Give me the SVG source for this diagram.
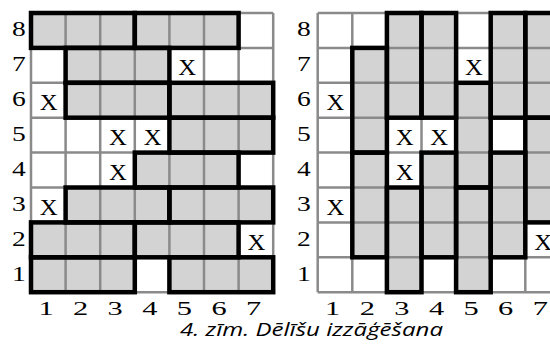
<svg xmlns="http://www.w3.org/2000/svg" width="550" height="345" viewBox="0 0 550 345">
<style>
.cell{fill:#d3d3d3}
.grid{fill:none;stroke:#8a8a8a;stroke-width:2.5}
.pc{fill:none;stroke:#000;stroke-width:4.5;stroke-linejoin:miter}
.x{font-family:"Liberation Serif",serif;font-size:22.5px;text-anchor:middle;fill:#000}
.rl{font-family:"Liberation Serif",serif;font-size:22px;text-anchor:middle;fill:#000}
.cl{font-family:"Liberation Serif",serif;font-size:19px;text-anchor:middle;fill:#000}
.cap{font-family:"Open Sans",sans-serif;font-style:italic;font-size:18.5px;fill:#000}
</style>
<rect width="550" height="345" fill="#fff"/>

<!-- LEFT GRID -->
<g id="left-grid" transform="translate(31,13)">
  <g id="left-fills">
    <rect class="cell" x="0" y="0" width="103.8" height="34.9"/>
    <rect class="cell" x="103.8" y="0" width="103.8" height="34.9"/>
    <rect class="cell" x="34.6" y="34.9" width="103.8" height="34.9"/>
    <rect class="cell" x="34.6" y="69.8" width="103.8" height="34.9"/>
    <rect class="cell" x="138.4" y="69.8" width="103.8" height="34.9"/>
    <rect class="cell" x="138.4" y="104.7" width="103.8" height="34.9"/>
    <rect class="cell" x="103.8" y="139.6" width="103.8" height="34.9"/>
    <rect class="cell" x="34.6" y="174.5" width="103.8" height="34.9"/>
    <rect class="cell" x="138.4" y="174.5" width="103.8" height="34.9"/>
    <rect class="cell" x="0" y="209.4" width="103.8" height="34.9"/>
    <rect class="cell" x="103.8" y="209.4" width="103.8" height="34.9"/>
    <rect class="cell" x="0" y="244.3" width="103.8" height="34.9"/>
    <rect class="cell" x="138.4" y="244.3" width="103.8" height="34.9"/>
  </g>
  <path class="grid" d="M0 0V279.2M34.6 0V279.2M69.2 0V279.2M103.8 0V279.2M138.4 0V279.2M173 0V279.2M207.6 0V279.2M242.2 0V279.2M0 0H242.2M0 34.9H242.2M0 69.8H242.2M0 104.7H242.2M0 139.6H242.2M0 174.5H242.2M0 209.4H242.2M0 244.3H242.2M0 279.2H242.2"/>
  <g id="left-pieces">
    <rect id="L8a" class="pc" x="0" y="0" width="103.8" height="34.9"/>
    <rect id="L8b" class="pc" x="103.8" y="0" width="103.8" height="34.9"/>
    <rect id="L7a" class="pc" x="34.6" y="34.9" width="103.8" height="34.9"/>
    <rect id="L6a" class="pc" x="34.6" y="69.8" width="103.8" height="34.9"/>
    <rect id="L6b" class="pc" x="138.4" y="69.8" width="103.8" height="34.9"/>
    <rect id="L5a" class="pc" x="138.4" y="104.7" width="103.8" height="34.9"/>
    <rect id="L4a" class="pc" x="103.8" y="139.6" width="103.8" height="34.9"/>
    <rect id="L3a" class="pc" x="34.6" y="174.5" width="103.8" height="34.9"/>
    <rect id="L3b" class="pc" x="138.4" y="174.5" width="103.8" height="34.9"/>
    <rect id="L2a" class="pc" x="0" y="209.4" width="103.8" height="34.9"/>
    <rect id="L2b" class="pc" x="103.8" y="209.4" width="103.8" height="34.9"/>
    <rect id="L1a" class="pc" x="0" y="244.3" width="103.8" height="34.9"/>
    <rect id="L1b" class="pc" x="138.4" y="244.3" width="103.8" height="34.9"/>
  </g>
  <g id="left-x" transform="scale(1.1,1)">
    <text class="x" x="142" y="62.15">X</text>
    <text class="x" x="16.18" y="97.05">X</text>
    <text class="x" x="79.09" y="131.95">X</text>
    <text class="x" x="110.55" y="131.95">X</text>
    <text class="x" x="79.09" y="166.85">X</text>
    <text class="x" x="16.18" y="201.75">X</text>
    <text class="x" x="204.91" y="236.65">X</text>
  </g>
</g>
<g id="left-row-labels" transform="scale(1.25,1)">
  <text class="rl" x="15.2" y="36.45">8</text>
  <text class="rl" x="15.2" y="71.35">7</text>
  <text class="rl" x="15.2" y="106.25">6</text>
  <text class="rl" x="15.2" y="141.15">5</text>
  <text class="rl" x="15.2" y="176.05">4</text>
  <text class="rl" x="15.2" y="210.95">3</text>
  <text class="rl" x="15.2" y="245.85">2</text>
  <text class="rl" x="15.2" y="280.75">1</text>
</g>
<g id="left-col-labels" transform="scale(1.6,1)">
  <text class="cl" x="28.75" y="315">1</text>
  <text class="cl" x="50.38" y="315">2</text>
  <text class="cl" x="72" y="315">3</text>
  <text class="cl" x="93.63" y="315">4</text>
  <text class="cl" x="115.25" y="315">5</text>
  <text class="cl" x="136.88" y="315">6</text>
  <text class="cl" x="158.5" y="315">7</text>
</g>

<!-- RIGHT GRID -->
<g id="right-grid" transform="translate(317.7,13)">
  <g id="right-fills">
    <rect class="cell" x="34.6" y="34.9" width="34.6" height="104.7"/>
    <rect class="cell" x="34.6" y="139.6" width="34.6" height="104.7"/>
    <rect class="cell" x="69.2" y="0" width="34.6" height="104.7"/>
    <rect class="cell" x="69.2" y="174.5" width="34.6" height="104.7"/>
    <rect class="cell" x="103.8" y="0" width="34.6" height="104.7"/>
    <rect class="cell" x="103.8" y="139.6" width="34.6" height="104.7"/>
    <rect class="cell" x="138.4" y="69.8" width="34.6" height="104.7"/>
    <rect class="cell" x="138.4" y="174.5" width="34.6" height="104.7"/>
    <rect class="cell" x="173" y="0" width="34.6" height="104.7"/>
    <rect class="cell" x="173" y="139.6" width="34.6" height="104.7"/>
    <rect class="cell" x="207.6" y="0" width="34.6" height="104.7"/>
    <rect class="cell" x="207.6" y="104.7" width="34.6" height="104.7"/>
  </g>
  <path class="grid" d="M0 0V279.2M34.6 0V279.2M69.2 0V279.2M103.8 0V279.2M138.4 0V279.2M173 0V279.2M207.6 0V279.2M242.2 0V279.2M0 0H242.2M0 34.9H242.2M0 69.8H242.2M0 104.7H242.2M0 139.6H242.2M0 174.5H242.2M0 209.4H242.2M0 244.3H242.2M0 279.2H242.2"/>
  <g id="right-pieces">
    <rect id="R2a" class="pc" x="34.6" y="34.9" width="34.6" height="104.7"/>
    <rect id="R2b" class="pc" x="34.6" y="139.6" width="34.6" height="104.7"/>
    <rect id="R3a" class="pc" x="69.2" y="0" width="34.6" height="104.7"/>
    <rect id="R3b" class="pc" x="69.2" y="174.5" width="34.6" height="104.7"/>
    <rect id="R4a" class="pc" x="103.8" y="0" width="34.6" height="104.7"/>
    <rect id="R4b" class="pc" x="103.8" y="139.6" width="34.6" height="104.7"/>
    <rect id="R5a" class="pc" x="138.4" y="69.8" width="34.6" height="104.7"/>
    <rect id="R5b" class="pc" x="138.4" y="174.5" width="34.6" height="104.7"/>
    <rect id="R6a" class="pc" x="173" y="0" width="34.6" height="104.7"/>
    <rect id="R6b" class="pc" x="173" y="139.6" width="34.6" height="104.7"/>
    <rect id="R7a" class="pc" x="207.6" y="0" width="34.6" height="104.7"/>
    <rect id="R7b" class="pc" x="207.6" y="104.7" width="34.6" height="104.7"/>
  </g>
  <g id="right-x" transform="scale(1.1,1)">
    <text class="x" x="142" y="62.15">X</text>
    <text class="x" x="16.18" y="97.05">X</text>
    <text class="x" x="79.09" y="131.95">X</text>
    <text class="x" x="110.55" y="131.95">X</text>
    <text class="x" x="79.09" y="166.85">X</text>
    <text class="x" x="16.18" y="201.75">X</text>
    <text class="x" x="204.91" y="236.65">X</text>
  </g>
</g>
<g id="right-row-labels" transform="scale(1.25,1)">
  <text class="rl" x="243.2" y="36.45">8</text>
  <text class="rl" x="243.2" y="71.35">7</text>
  <text class="rl" x="243.2" y="106.25">6</text>
  <text class="rl" x="243.2" y="141.15">5</text>
  <text class="rl" x="243.2" y="176.05">4</text>
  <text class="rl" x="243.2" y="210.95">3</text>
  <text class="rl" x="243.2" y="245.85">2</text>
  <text class="rl" x="243.2" y="280.75">1</text>
</g>
<g id="right-col-labels" transform="scale(1.6,1)">
  <text class="cl" x="207.94" y="315">1</text>
  <text class="cl" x="229.56" y="315">2</text>
  <text class="cl" x="251.19" y="315">3</text>
  <text class="cl" x="272.81" y="315">4</text>
  <text class="cl" x="294.44" y="315">5</text>
  <text class="cl" x="316.06" y="315">6</text>
  <text class="cl" x="337.69" y="315">7</text>
</g>

<text id="caption" class="cap" x="180" y="336" textLength="263" lengthAdjust="spacingAndGlyphs">4. zīm. Dēlīšu izzāģēšana</text>
</svg>
